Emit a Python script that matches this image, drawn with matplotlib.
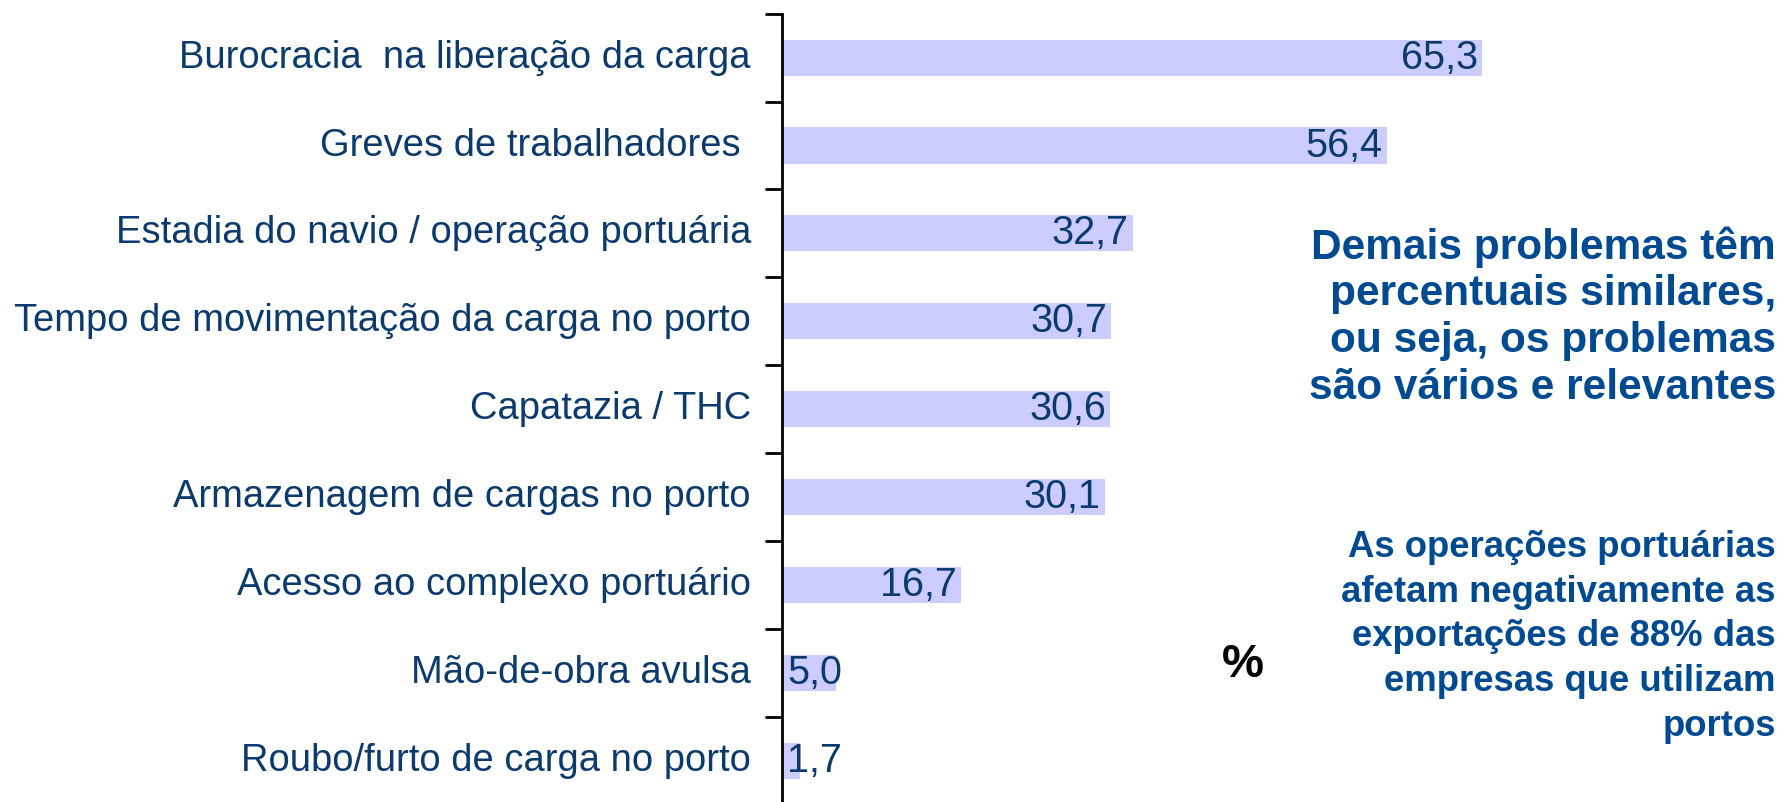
import matplotlib
matplotlib.use('Agg')
import matplotlib.pyplot as plt

categorias = ["Burocracia  na liberação da carga",
              "Greves de trabalhadores ",
              "Estadia do navio / operação portuária",
              "Tempo de movimentação da carga no porto",
              "Capatazia / THC",
              "Armazenagem de cargas no porto",
              "Acesso ao complexo portuário",
              "Mão-de-obra avulsa",
              "Roubo/furto de carga no porto"]
valores = [65.3, 56.4, 32.7, 30.7, 30.6, 30.1, 16.7, 5.0, 1.7]
rotulos = ["65,3", "56,4", "32,7", "30,7", "30,6", "30,1", "16,7", "5,0", "1,7"]

texto1 = "Demais problemas têm\npercentuais similares,\nou seja, os problemas\nsão vários e relevantes"
texto2 = "As operações portuárias\nafetam negativamente as\nexportações de 88% das\nempresas que utilizam\nportos"

plt.rcParams['font.family'] = ['Liberation Sans', 'DejaVu Sans']
azul = '#0b3a6e'
azul2 = '#004a91'

fig = plt.figure(figsize=(17.83, 8.02), dpi=100)
W, H = 1783.0, 802.0
ax = fig.add_axes([782 / W, (802 - 805) / H, 1000 / W, (805 - 13.6) / H])

n = len(valores)
pos = list(range(n))
ax.barh(pos, valores, height=0.41, color='#ccccff', zorder=2)
ax.set_ylim(n - 0.5, -0.5)
# 616 px (reduced image) for 65.3 units
ax.set_xlim(0, 65.3 * 1000 / (616 * 1.137))

for sp in ['top', 'right', 'bottom']:
    ax.spines[sp].set_visible(False)
ax.spines['left'].set_linewidth(2)
ax.set_xticks([])
ax.set_yticks([i - 0.5 for i in range(n + 1)])
ax.set_yticklabels([])
ax.tick_params(axis='y', length=12, width=2, direction='out')

for i, c in enumerate(categorias):
    ax.text(-0.031, i, c, transform=ax.get_yaxis_transform(), ha='right',
            va='center', fontsize=27.45, color=azul)

for i, (v, r) in enumerate(zip(valores, rotulos)):
    ax.text(max(v - 0.4, 5.6), i, r, ha='right', va='center', fontsize=28.5,
            color=azul, zorder=3)

fig.text(1776 / W, 1 - 317 / H, texto1, ha='right', va='center', fontsize=30.5,
         fontweight='bold', color=azul2, linespacing=1.22)
fig.text(1776 / W, 1 - 637 / H, texto2, ha='right', va='center', fontsize=26.3,
         fontweight='bold', color=azul2, linespacing=1.37)
fig.text(1243 / W, 1 - 665 / H, "%", ha='center', va='center', fontsize=34,
         fontweight='bold', color='black')

plt.savefig('out.png', dpi=100)
